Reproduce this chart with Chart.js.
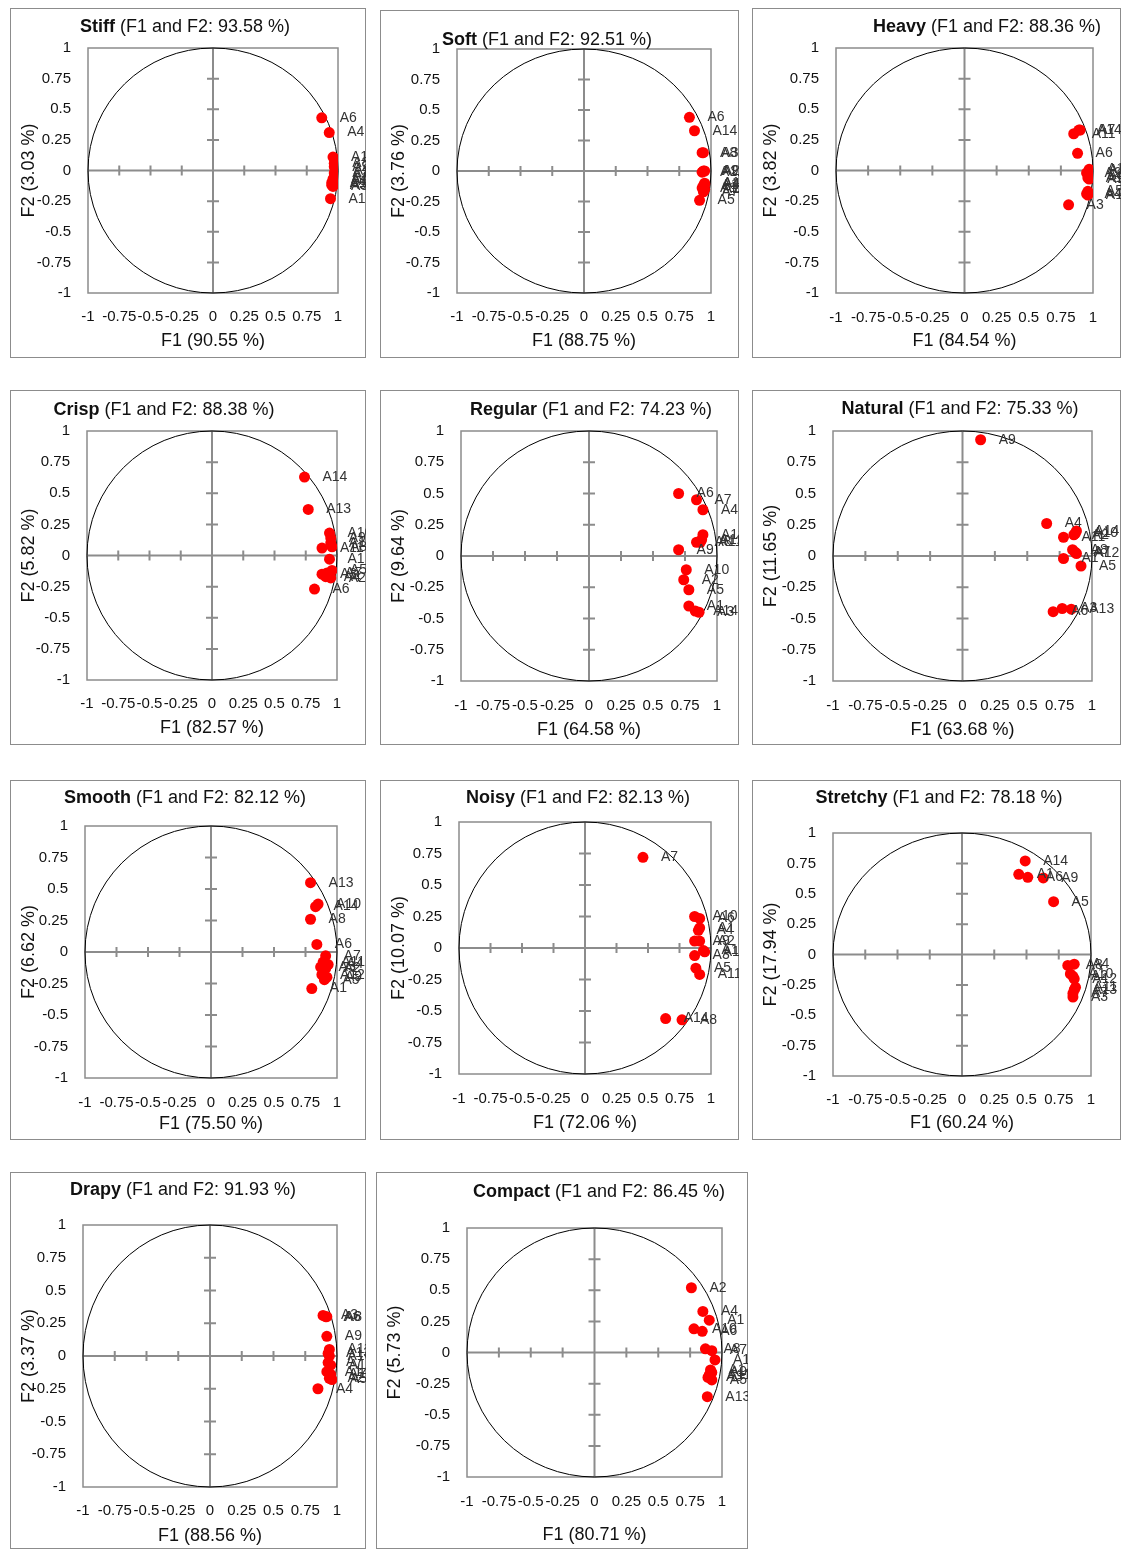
<!DOCTYPE html>
<html>
<head>
<meta charset="utf-8">
<script src="https://cdn.jsdelivr.net/npm/chart.js@4.4.1/dist/chart.umd.min.js"></script>
<style>
    body { margin: 0; background: #fff; width: 1122px; height: 1549px; position: relative; overflow: hidden;
           font-family: 'Liberation Sans', Arial, sans-serif; }
    .panel { position: absolute; box-shadow: inset 0 0 0 1px #8c8c8c; }
    .panel canvas { position: absolute; left: 0; top: 0; }
    .ttl { position: absolute; transform: translate(-50%, -50%); white-space: nowrap; font-size: 18px; color: #111; }
</style>
</head>
<body>
<script>
// variables A1..A14
const attrs = ['A1', 'A2', 'A3', 'A4', 'A5', 'A6', 'A7', 'A8', 'A9', 'A10', 'A11', 'A12', 'A13', 'A14'];

// panel titles and explained variance
const panelNames = ['Stiff', 'Soft', 'Heavy', 'Crisp', 'Regular', 'Natural', 'Smooth', 'Noisy', 'Stretchy', 'Drapy', 'Compact'];
const totalPct = ['93.58', '92.51', '88.36', '88.38', '74.23', '75.33', '82.12', '82.13', '78.18', '91.93', '86.45'];
const f1Pct = ['90.55', '88.75', '84.54', '82.57', '64.58', '63.68', '75.50', '72.06', '60.24', '88.56', '80.71'];
const f2Pct = ['3.03', '3.76', '3.82', '5.82', '9.64', '11.65', '6.62', '10.07', '17.94', '3.37', '5.73'];

// tick labels, same on both axes
const axisTicks = [-1, -0.75, -0.5, -0.25, 0, 0.25, 0.5, 0.75, 1];

// correlations with F1 / F2, order A1..A14
const stiffF1 = [0.94, 0.97, 0.96, 0.93, 0.95, 0.87, 0.97, 0.97, 0.98, 0.97, 0.96, 0.96, 0.96, 0.95];
const stiffF2 = [-0.23, 0.03, -0.13, 0.31, -0.12, 0.43, -0.05, 0.06, 0.00, -0.02, -0.07, 0.11, -0.09, -0.10];

const softF1 = [0.95, 0.95, 0.94, 0.95, 0.91, 0.83, 0.94, 0.93, 0.94, 0.95, 0.93, 0.93, 0.94, 0.87];
const softF2 = [-0.15, 0.00, 0.15, -0.11, -0.24, 0.44, -0.17, 0.15, 0.00, -0.10, -0.14, -0.01, -0.12, 0.33];

const heavyF1 = [0.96, 0.95, 0.81, 0.95, 0.96, 0.88, 0.90, 0.97, 0.97, 0.96, 0.85, 0.97, 0.98, 0.89];
const heavyF2 = [-0.20, -0.02, -0.28, -0.19, -0.17, 0.14, 0.33, -0.04, -0.07, -0.06, 0.30, 0.01, 0.00, 0.33];

const crispF1 = [0.94, 0.95, 0.88, 0.91, 0.96, 0.82, 0.92, 0.96, 0.95, 0.94, 0.88, 0.95, 0.77, 0.74];
const crispF2 = [-0.03, -0.18, -0.15, -0.17, -0.12, -0.27, -0.14, 0.07, 0.14, 0.18, 0.06, 0.10, 0.37, 0.63];

const regularF1 = [0.78, 0.74, 0.86, 0.89, 0.78, 0.70, 0.84, 0.84, 0.70, 0.76, 0.87, 0.88, 0.89, 0.83];
const regularF2 = [-0.40, -0.19, -0.45, 0.37, -0.27, 0.50, 0.45, 0.11, 0.05, -0.11, 0.11, 0.13, 0.17, -0.44];

const naturalF1 = [0.78, 0.86, 0.77, 0.65, 0.915, 0.70, 0.87, 0.85, 0.14, 0.87, 0.78, 0.88, 0.84, 0.88];
const naturalF2 = [-0.02, 0.17, -0.42, 0.26, -0.08, -0.445, 0.03, 0.05, 0.93, 0.18, 0.15, 0.02, -0.425, 0.20];

const smoothF1 = [0.80, 0.91, 0.87, 0.93, 0.90, 0.84, 0.91, 0.79, 0.92, 0.85, 0.89, 0.88, 0.79, 0.83];
const smoothF2 = [-0.29, -0.13, -0.12, -0.10, -0.22, 0.06, -0.03, 0.26, -0.20, 0.38, -0.08, -0.18, 0.55, 0.36];

const noisyF1 = [0.91, 0.91, 0.87, 0.90, 0.88, 0.91, 0.46, 0.77, 0.87, 0.87, 0.91, 0.95, 0.94, 0.64];
const noisyF2 = [0.16, 0.055, -0.06, 0.14, -0.16, 0.235, 0.72, -0.57, 0.055, 0.25, -0.21, -0.03, -0.02, -0.56];

const stretchyF1 = [0.44, 0.86, 0.86, 0.87, 0.71, 0.51, 0.86, 0.82, 0.63, 0.84, 0.88, 0.87, 0.87, 0.49];
const stretchyF2 = [0.66, -0.18, -0.35, -0.08, 0.435, 0.635, -0.32, -0.09, 0.63, -0.16, -0.27, -0.20, -0.29, 0.77];

const drapyF1 = [0.95, 0.94, 0.89, 0.85, 0.96, 0.91, 0.93, 0.92, 0.92, 0.94, 0.94, 0.95, 0.93, 0.92];
const drapyF2 = [-0.14, -0.17, 0.31, -0.25, -0.18, 0.30, -0.05, 0.30, 0.15, 0.00, 0.05, -0.07, 0.02, -0.12];

const compactF1 = [0.90, 0.76, 0.89, 0.85, 0.92, 0.845, 0.92, 0.87, 0.92, 0.78, 0.90, 0.945, 0.885, 0.91];
const compactF2 = [0.26, 0.52, -0.20, 0.33, -0.22, 0.17, 0.015, 0.03, -0.16, 0.19, -0.18, -0.06, -0.355, -0.14];

const seriesF1 = [stiffF1, softF1, heavyF1, crispF1, regularF1, naturalF1, smoothF1, noisyF1, stretchyF1, drapyF1, compactF1];
const seriesF2 = [stiffF2, softF2, heavyF2, crispF2, regularF2, naturalF2, smoothF2, noisyF2, stretchyF2, drapyF2, compactF2];

// page layout of each panel: box [x, y, w, h], plot area [l, t, r, b], title centre, x tick row, x title row
const layouts = [
    { box: [10, 8, 356, 350],     plot: [88, 48, 338, 293],     title: [185, 26],   tickY: 317,  xTitleY: 341 },
    { box: [380, 10, 359, 348],   plot: [457, 49, 711, 293],    title: [547, 39],   tickY: 317,  xTitleY: 341 },
    { box: [752, 8, 369, 350],    plot: [836, 48, 1093, 293],   title: [987, 26],   tickY: 318,  xTitleY: 341 },
    { box: [10, 390, 356, 355],   plot: [87, 431, 337, 680],    title: [164, 409],  tickY: 704,  xTitleY: 728 },
    { box: [380, 390, 359, 355],  plot: [461, 431, 717, 681],   title: [591, 409],  tickY: 706,  xTitleY: 730 },
    { box: [752, 390, 369, 355],  plot: [833, 431, 1092, 681],  title: [960, 408],  tickY: 706,  xTitleY: 730 },
    { box: [10, 780, 356, 360],   plot: [85, 826, 337, 1078],   title: [185, 797],  tickY: 1103, xTitleY: 1124 },
    { box: [380, 780, 359, 360],  plot: [459, 822, 711, 1074],  title: [578, 797],  tickY: 1099, xTitleY: 1123 },
    { box: [752, 780, 369, 360],  plot: [833, 833, 1091, 1076], title: [939, 797],  tickY: 1100, xTitleY: 1123 },
    { box: [10, 1172, 356, 377],  plot: [83, 1225, 337, 1487],  title: [183, 1189], tickY: 1511, xTitleY: 1536 },
    { box: [376, 1172, 372, 377], plot: [467, 1228, 722, 1477], title: [599, 1191], tickY: 1502, xTitleY: 1535 }
];

const FONT = "'Liberation Sans', Arial, sans-serif";
const AXIS_GREY = '#8c8c8c';
const TICK_SIZE = 15;
const TITLE_SIZE = 18;

// frame, axes through the origin, tick marks, unit circle and point labels
const circlePlugin = {
    id: 'circle',
    beforeDatasetsDraw(chart) {
        const { ctx, chartArea: a, scales: { x, y } } = chart;
        const cx = x.getPixelForValue(0);
        const cy = y.getPixelForValue(0);
        ctx.save();
        ctx.strokeStyle = AXIS_GREY;
        ctx.lineWidth = 1.5;
        ctx.strokeRect(a.left, a.top, a.width, a.height);
        ctx.lineWidth = 2;
        ctx.beginPath();
        ctx.moveTo(a.left, cy); ctx.lineTo(a.right, cy);
        ctx.moveTo(cx, a.top); ctx.lineTo(cx, a.bottom);
        axisTicks.forEach(v => {
            if (v === 0 || Math.abs(v) === 1) return;
            const px = x.getPixelForValue(v);
            const py = y.getPixelForValue(v);
            ctx.moveTo(px, cy - 5); ctx.lineTo(px, cy + 5);
            ctx.moveTo(cx - 6, py); ctx.lineTo(cx + 6, py);
        });
        ctx.stroke();
        ctx.strokeStyle = '#000';
        ctx.lineWidth = 1;
        ctx.beginPath();
        ctx.ellipse(cx, cy, x.getPixelForValue(1) - cx, cy - y.getPixelForValue(1), 0, 0, Math.PI * 2);
        ctx.stroke();
        ctx.restore();
    },
    afterDatasetsDraw(chart) {
        const ctx = chart.ctx;
        ctx.save();
        ctx.font = '14px ' + FONT;
        ctx.fillStyle = '#333';
        ctx.textBaseline = 'middle';
        chart.getDatasetMeta(0).data.forEach((el, i) => {
            ctx.fillText(attrs[i], el.x + 18, el.y);
        });
        ctx.restore();
    }
};

const tickLabel = v => String(+(+v).toFixed(2));

panelNames.forEach((name, p) => {
    const L = layouts[p];
    const [bx, by, bw, bh] = L.box;
    const [l, t, r, b] = L.plot;

    const div = document.createElement('div');
    div.className = 'panel';
    div.style.cssText = `left:${bx}px;top:${by}px;width:${bw}px;height:${bh}px;`;
    const canvas = document.createElement('canvas');
    canvas.width = bw;
    canvas.height = bh;
    canvas.style.width = bw + 'px';
    canvas.style.height = bh + 'px';
    div.appendChild(canvas);
    document.body.appendChild(div);

    const ttl = document.createElement('div');
    ttl.className = 'ttl';
    ttl.style.left = L.title[0] + 'px';
    ttl.style.top = L.title[1] + 'px';
    ttl.innerHTML = `<b>${name}</b> (F1 and F2: ${totalPct[p]} %)`;
    document.body.appendChild(ttl);

    const xs = seriesF1[p];
    const ys = seriesF2[p];

    new Chart(canvas, {
        type: 'scatter',
        data: {
            datasets: [{
                data: xs.map((v, i) => ({ x: v, y: ys[i] })),
                backgroundColor: '#ff0000',
                borderWidth: 0,
                pointRadius: 5.5,
                pointHoverRadius: 5.5
            }]
        },
        options: {
            responsive: false,
            animation: false,
            devicePixelRatio: 1,
            layout: { padding: { left: 0, top: t - by, right: bx + bw - r, bottom: 0 } },
            plugins: { legend: { display: false }, tooltip: { enabled: false } },
            scales: {
                x: {
                    type: 'linear', min: -1, max: 1,
                    grid: { display: false, drawTicks: false },
                    border: { display: false },
                    afterBuildTicks: s => { s.ticks = axisTicks.map(v => ({ value: v })); },
                    afterFit: s => { s.height = by + bh - b; },
                    ticks: {
                        autoSkip: false, maxRotation: 0, minRotation: 0,
                        padding: L.tickY - b - TICK_SIZE * 0.6,
                        color: '#111', font: { family: FONT, size: TICK_SIZE },
                        callback: tickLabel
                    },
                    title: {
                        display: true, text: `F1 (${f1Pct[p]} %)`, color: '#111',
                        font: { family: FONT, size: TITLE_SIZE },
                        padding: { top: 0, bottom: by + bh - L.xTitleY - TITLE_SIZE * 0.6 }
                    }
                },
                y: {
                    type: 'linear', min: -1, max: 1,
                    grid: { display: false, drawTicks: false },
                    border: { display: false },
                    afterBuildTicks: s => { s.ticks = axisTicks.map(v => ({ value: v })); },
                    afterFit: s => { s.width = l - bx; },
                    ticks: {
                        autoSkip: false, padding: 17,
                        color: '#111', font: { family: FONT, size: TICK_SIZE },
                        callback: tickLabel
                    },
                    title: {
                        display: true, text: `F2 (${f2Pct[p]} %)`, color: '#111',
                        font: { family: FONT, size: TITLE_SIZE },
                        padding: { top: 8, bottom: 0 }
                    }
                }
            }
        },
        plugins: [circlePlugin]
    });
});
</script>
</body>
</html>
